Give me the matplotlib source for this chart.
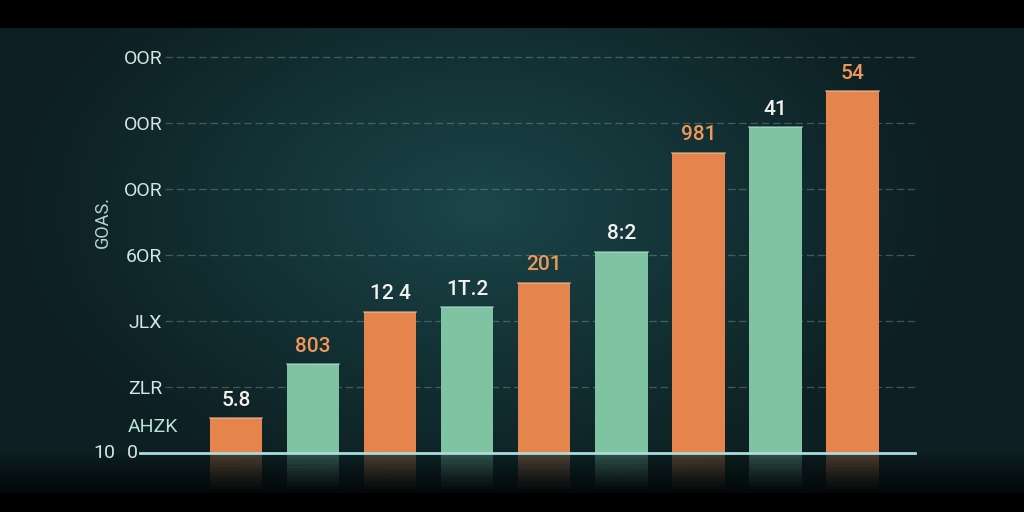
import numpy as np
import matplotlib
matplotlib.use("Agg")
import matplotlib.pyplot as plt

# bar heights (gridlines every 100)
values = [53, 135, 214, 221, 258, 305, 455, 494, 548]
value_labels = ["5.8", "803", "12 4", "1T.2", "201", "8:2", "981", "41", "54"]
bar_kinds = ["o", "g", "o", "g", "o", "g", "o", "g", "o"]
label_kinds = ["w", "o", "w", "w", "o", "w", "o", "w", "o"]
ytick_vals = [100, 200, 300, 400, 500, 600]
ytick_labels = ["ZLR", "JLX", "6OR", "OOR", "OOR", "OOR"]

ORANGE = "#e5844c"
GREEN = "#7fc3a2"
bar_col = {"o": ORANGE, "g": GREEN}
lab_col = {"o": "#f0975a", "w": "#f2f2ee"}
TICK_COL = "#d3e6e2"

plt.rcParams['font.family'] = ['Roboto', 'DejaVu Sans']

fig = plt.figure(figsize=(10.24, 5.12), dpi=100, facecolor="black")

# background glow panel between the black bands
H, W = 465, 1024
yy, xx = np.mgrid[0:H, 0:W]
d = np.sqrt(((xx - 480) / 470.0) ** 2 + ((yy - 180) / 300.0) ** 2)
s = np.clip(d, 0, 1) ** 0.9
center = np.array([0x1b, 0x47, 0x4b]) / 255.0
edge = np.array([0x0d, 0x1f, 0x22]) / 255.0
img = center[None, None, :] * (1 - s[..., None]) + edge[None, None, :] * s[..., None]
# floor under the baseline fades towards black
floor = np.clip((yy - 425) / 40.0, 0, 1)
img = img * (1 - 0.75 * floor[..., None] ** 0.8)
bg = fig.add_axes([0, 19 / 512, 1, 465 / 512])
bg.imshow(img, aspect="auto", interpolation="bilinear")
bg.axis("off")

# main chart
ax = fig.add_axes([165 / 1024, 19 / 512, 750 / 1024, 465 / 512])
ax.patch.set_alpha(0)
x = np.arange(len(values))
colors = [bar_col[k] for k in bar_kinds]
bars = ax.bar(x, values, width=0.68, color=colors, edgecolor="none", zorder=3)
for b in bars:
    ax.plot([b.get_x(), b.get_x() + b.get_width()], [b.get_height()] * 2,
            color="#f5c9a8" if b.get_facecolor()[0] > 0.8 else "#b8e6d6",
            lw=1.2, alpha=0.6, zorder=4)

# faint reflections below the baseline
n = 10
for i in range(n):
    ax.bar(x, -55 / n, bottom=-55 * i / n, width=0.68, color=colors,
           alpha=0.28 * (1 - i / n) ** 1.2, edgecolor="none", zorder=2)

for xi, v, lab, lk in zip(x, values, value_labels, label_kinds):
    ax.annotate(lab, (xi, v), xytext=(0, 6), textcoords="offset points",
                ha="center", va="bottom", fontsize=15, fontweight="medium",
                color=lab_col[lk], zorder=5)

ax.set_xlim(-0.92, 8.81)
ax.set_ylim(-60.6, 643.9)
ax.set_yticks(ytick_vals)
ax.set_yticklabels(ytick_labels)
ax.tick_params(axis="y", length=0, pad=2, labelsize=14, labelcolor=TICK_COL)
ax.set_xticks([])
for sp in ax.spines.values():
    sp.set_visible(False)
ax.yaxis.grid(True, color="#8aa6a3", alpha=0.4, lw=0.9, linestyle=(0, (6, 3)))
ax.set_axisbelow(True)

ax.axhline(0, xmin=-25 / 750, xmax=1, color="#a9dcdc", lw=2, clip_on=False, zorder=6)

tr = ax.get_yaxis_transform()
ax.text(-27 / 750, 0, "0", transform=tr, ha="right", va="center",
        fontsize=14, color=TICK_COL)
ax.text(-50 / 750, 0, "10", transform=tr, ha="right", va="center",
        fontsize=14, color=TICK_COL)
ax.text(13 / 750, 40, "AHZK", transform=tr, ha="right", va="center",
        fontsize=14, color="#b7e3d2")

fig.text(103 / 1024, 1 - 222 / 512, "GOAS.", rotation=90, ha="center",
         va="center", fontsize=13, color="#b8d3cd")

fig.savefig("out.png", dpi=100, facecolor="black")
